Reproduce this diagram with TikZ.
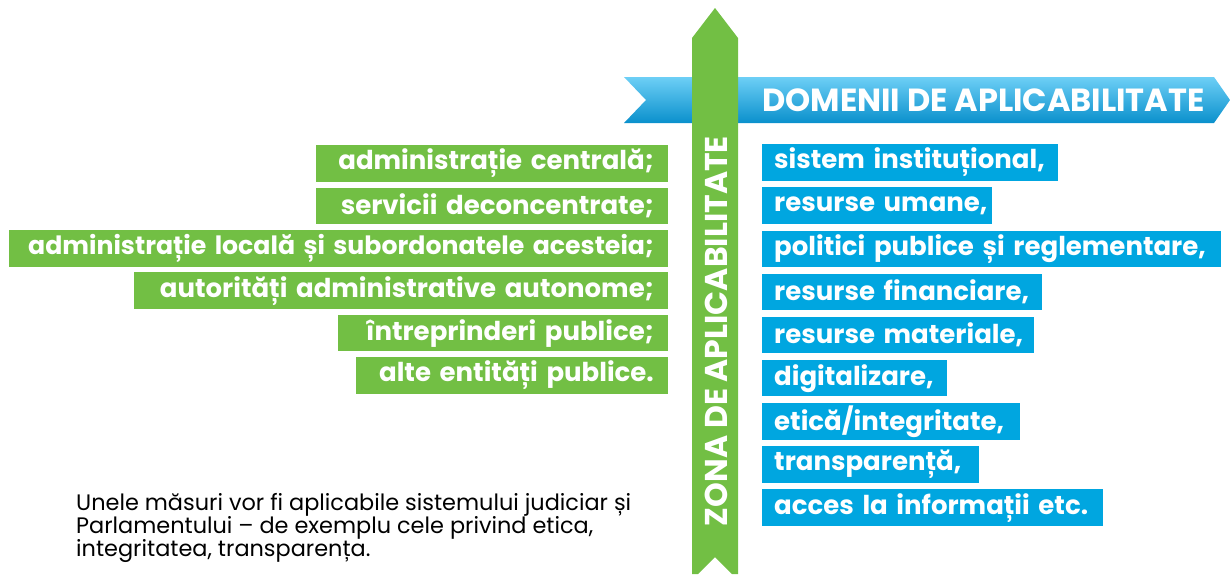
\documentclass[tikz,border=0pt]{standalone}
\usepackage{fontspec}
\setmainfont{Poppins}
\usetikzlibrary{positioning}

\definecolor{zgreen}{HTML}{72BF44}
\definecolor{dblue}{HTML}{00A6E0}
\definecolor{btop}{HTML}{6DCFF6}
\definecolor{bbot}{HTML}{0A90CC}

\tikzset{
	gbox/.style={fill=zgreen, text=white, font=\bfseries\fontsize{26}{26}\selectfont,
		inner xsep=0pt, inner ysep=0pt, minimum height=36.5pt, align=right,
		text width=#1, execute at end node={\hspace*{14pt}}, anchor=north east},
	bbox/.style={fill=dblue, text=white, font=\bfseries\fontsize{26}{26}\selectfont,
		inner xsep=0pt, inner ysep=0pt, minimum height=36.5pt, align=left,
		text width=#1, execute at begin node={\hspace*{12pt}}, anchor=north west}
}

\begin{document}
\begin{tikzpicture}[x=1pt,y=-1pt]
	\useasboundingbox (0,0) rectangle (1230,574);
	% banner
	\shade[top color=btop, bottom color=bbot]
		(624,77) -- (1214,77) -- (1230,100) -- (1214,123) -- (624,123) -- (646,100) -- cycle;
	\node[text=white, font=\bfseries\fontsize{32}{32}\selectfont] (dom) at (983.5,100) {DOMENII DE APLICABILITATE};
	% vertical bar
	\fill[zgreen] (692,574) -- (692,38) -- (715,8) -- (738,38) -- (738,574) -- (732,574)
		-- (715,557) -- (698,574) -- cycle;
	\node[rotate=90, text=white, font=\bfseries\fontsize{31.5}{31.5}\selectfont] (zone) at (716,331) {ZONA DE APLICABILITATE};
	% left column
	\node[gbox=352pt] (g1) at (668,145) {administrație centrală;};
	\node[gbox=352pt, below=5.5pt of g1.south east, anchor=north east] (g2) {servicii deconcentrate;};
	\node[gbox=659pt, font=\bfseries\fontsize{25.2}{26}\selectfont, below=5.5pt of g2.south east, anchor=north east] (g3) {administrație locală și subordonatele acesteia;};
	\node[gbox=534pt, below=5.5pt of g3.south east, anchor=north east] (g4) {autorități administrative autonome;};
	\node[gbox=330pt, below=5.5pt of g4.south east, anchor=north east] (g5) {întreprinderi publice;};
	\node[gbox=312pt, below=5.5pt of g5.south east, anchor=north east] (g6) {alte entități publice.};
	% right column
	\node[bbox=295.7pt] (b1) at (762,144) {sistem instituțional,};
	\node[bbox=229.7pt, below=6.25pt of b1.south west, anchor=north west] (b2) {resurse umane,};
	\node[bbox=458.7pt, below=6.25pt of b2.south west, anchor=north west] (b3) {politici publice și reglementare,};
	\node[bbox=280pt, below=6.25pt of b3.south west, anchor=north west] (b4) {resurse financiare,};
	\node[bbox=271.7pt, below=6.25pt of b4.south west, anchor=north west] (b5) {resurse materiale,};
	\node[bbox=184.7pt, below=6.25pt of b5.south west, anchor=north west] (b6) {digitalizare,};
	\node[bbox=258pt, below=6.25pt of b6.south west, anchor=north west] (b7) {etică/integritate,};
	\node[bbox=217pt, below=6.25pt of b7.south west, anchor=north west] (b8) {transparență,};
	\node[bbox=340.7pt, below=6.25pt of b8.south west, anchor=north west] (b9) {acces la informații etc.};
	% note
	\node[anchor=base west, align=left, inner sep=0pt, font=\fontsize{22.4}{23}\selectfont] (note) at (76,556.5)
		{Unele măsuri vor fi aplicabile sistemului judiciar și\\
		Parlamentului – de exemplu cele privind etica,\\
		integritatea, transparența.};
\end{tikzpicture}
\end{document}
